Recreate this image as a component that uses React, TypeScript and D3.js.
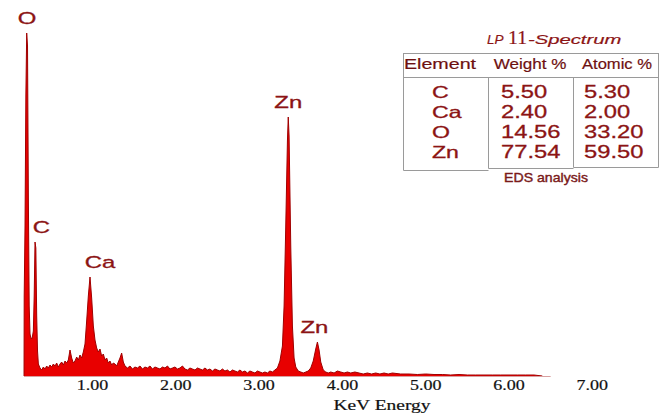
import React from "react";
import * as d3 from "d3";

const energies = [
  0.178, 0.18, 0.19, 0.2, 0.21, 0.22, 0.23, 0.24, 0.25, 0.26, 0.27, 0.28, 0.29, 0.3, 0.31, 0.32, 0.33, 0.34, 0.35, 0.37, 0.39,
  0.41, 0.43, 0.45, 0.47, 0.49, 0.51, 0.53, 0.55, 0.57, 0.59, 0.61, 0.63, 0.65, 0.67, 0.69, 0.71, 0.73, 0.75, 0.77, 0.79,
  0.81, 0.83, 0.85, 0.87, 0.89, 0.91, 0.93, 0.95, 0.97, 0.99, 1.01, 1.03, 1.05, 1.07, 1.09, 1.11, 1.13, 1.15, 1.17, 1.19,
  1.21, 1.23, 1.25, 1.27, 1.29, 1.31, 1.33, 1.35, 1.37, 1.39, 1.42, 1.45, 1.48, 1.51, 1.54, 1.57, 1.6, 1.63, 1.66, 1.69,
  1.72, 1.75, 1.78, 1.81, 1.84, 1.87, 1.9, 1.93, 1.96, 1.99, 2.02, 2.05, 2.08, 2.11, 2.14, 2.17, 2.2, 2.23, 2.26, 2.29,
  2.32, 2.35, 2.38, 2.41, 2.44, 2.47, 2.5, 2.53, 2.56, 2.59, 2.62, 2.65, 2.68, 2.71, 2.74, 2.77, 2.8, 2.83, 2.86, 2.89,
  2.92, 2.95, 2.98, 3.01, 3.04, 3.07, 3.1, 3.13, 3.16, 3.19, 3.22, 3.25, 3.28, 3.3, 3.32, 3.34, 3.35, 3.36, 3.38, 3.4,
  3.42, 3.44, 3.47, 3.5, 3.53, 3.56, 3.59, 3.62, 3.65, 3.68, 3.7, 3.72, 3.74, 3.77, 3.8, 3.83, 3.86, 3.9, 3.94, 3.98,
  4.02, 4.06, 4.1, 4.15, 4.2, 4.25, 4.3, 4.35, 4.4, 4.45, 4.5, 4.55, 4.6, 4.7, 4.8, 4.9, 5.0, 5.1, 5.2, 5.3,
  5.4, 5.5, 5.6, 5.7, 5.8, 5.9, 6.0, 6.1, 6.2, 6.3, 6.4,
];

const counts = [
  0, 80, 150, 280, 343, 330, 180, 70, 42, 38, 37, 40, 45, 80, 134, 128, 60, 25, 12, 8, 6,
  9, 7, 10, 8, 11, 9, 12, 10, 13, 9, 12, 14, 11, 15, 13, 16, 26, 18, 13, 15,
  19, 16, 21, 18, 24, 32, 55, 80, 99, 78, 50, 36, 28, 24, 27, 20, 22, 16, 18, 13,
  15, 11, 13, 12, 10, 14, 18, 23, 14, 10, 8, 10, 7, 9, 8, 10, 7, 9, 8, 10,
  7, 9, 8, 7, 9, 8, 10, 7, 8, 9, 7, 8, 10, 7, 6, 8, 7, 6, 8, 7,
  6, 8, 6, 7, 5, 7, 6, 5, 7, 5, 6, 4, 6, 5, 4, 6, 4, 5, 3, 5,
  4, 3, 5, 4, 3, 4, 3, 5, 4, 6, 8, 15, 30, 70, 150, 235, 259, 240, 130, 50,
  18, 9, 5, 4, 3, 4, 5, 8, 15, 27, 34, 26, 14, 6, 4, 3, 4, 3, 5, 4,
  3, 4, 3, 4, 3, 2, 3, 2, 3, 2, 3, 2, 3, 2, 2, 1.5, 2, 1.5, 1.5, 1,
  1.5, 1, 1, 1, 1, 1, 1, 1, 1, 1, 0,
];

const tickValues = [1, 2, 3, 4, 5, 6, 7];
const axisTitle = "KeV Energy";

const peakNames = ["O", "C", "Ca", "Zn", "Zn"];
const peakEnergies = [0.215, 0.315, 0.97, 3.35, 3.7];
const peakCounts = [343, 134, 99, 259, 34];

const tableHeaders = ["Element", "Weight %", "Atomic %"];
const elements = ["C", "Ca", "O", "Zn"];
const weightPct = ["5.50", "2.40", "14.56", "77.54"];
const atomicPct = ["5.30", "2.00", "33.20", "59.50"];

const LABEL = "#8c1414";

function SText({ x, y, sx = 1, anchor = "start", size, family, weight, style, fill, sw = 0, children }: any) {
  return (
    <text
      transform={`translate(${x},${y}) scale(${sx},1)`}
      textAnchor={anchor}
      fontSize={size}
      fontFamily={family}
      fontWeight={weight}
      fontStyle={style}
      fill={fill}
      stroke={sw ? fill : "none"}
      strokeWidth={sw}
    >
      {children}
    </text>
  );
}

export default function App() {
  const W = 666;
  const H = 415;
  const x = d3.scaleLinear().domain([0, 7]).range([9.2, 9.2 + 7 * 83.3]);
  const y = d3.scaleLinear().domain([0, 350]).range([376, 26]);
  const data = energies.map((e, i) => [e, counts[i]] as [number, number]);
  const area = d3
    .area<[number, number]>()
    .x((d) => x(d[0]))
    .y0(y(0))
    .y1((d) => y(d[1]));
  const line = d3
    .line<[number, number]>()
    .x((d) => x(d[0]))
    .y((d) => y(d[1]));
  const sans = "Liberation Sans, Arial, sans-serif";
  const serif = "Liberation Serif, Times New Roman, serif";

  const rowY = [98, 118, 137.5, 157.5];

  return (
    <svg width={W} height={H} style={{ position: "absolute", left: 0, top: 0, background: "#fff" }}>
      <rect width={W} height={H} fill="#fff" />
      <path d={area(data) || ""} fill="#e80000" />
      <path d={line(data) || ""} fill="none" stroke="#a00000" strokeWidth={1} />
      <line x1={x(energies[0])} x2={x(6.5)} y1={376.5} y2={376.5} stroke="#d8a0a0" strokeWidth={1} />

      {tickValues.map((t) => (
        <SText key={t} x={x(t)} y={390} sx={1.2} anchor="middle" size={15} family={serif} fill="#111" sw={0.2}>
          {d3.format(".2f")(t)}
        </SText>
      ))}
      <SText x={382} y={410} sx={1.3} anchor="middle" size={15} family={serif} fill="#111" sw={0.2}>
        {axisTitle}
      </SText>

      {peakNames.map((n, i) => {
        const px = x(peakEnergies[i]);
        const py = y(peakCounts[i]);
        const dx = [0, 6, 10, 0, -3][i];
        return (
          <SText key={i} x={px + dx} y={py - 9} sx={1.45} anchor="middle" size={16.5} family={sans} fill={LABEL} sw={0.3}>
            {n}
          </SText>
        );
      })}

      {/* Title */}
      <SText x={487} y={44} sx={1.0} size={13.5} family={sans} style="italic" fill={LABEL} sw={0.2}>
        LP
      </SText>
      <SText x={508} y={44} sx={1.1} size={18} family={serif} fill={LABEL} sw={0.2}>
        11
      </SText>
      <SText x={528} y={44} sx={1.5} size={13.5} family={sans} style="italic" fill={LABEL} sw={0.2}>
        -Spectrum
      </SText>

      {/* Table frame */}
      <g stroke="#9a9a9a" strokeWidth={1} fill="none">
        <rect x={403.5} y={53.5} width={255} height={24} />
        <polyline points="403.5,77.5 403.5,170.5 488.5,170.5" />
        <polyline points="488.5,77.5 488.5,168.5 573.5,168.5" />
        <polyline points="573.5,77.5 573.5,167.5 658.5,167.5 658.5,77.5" />
      </g>
      {tableHeaders.map((h, i) => (
        <SText
          key={h}
          x={[440, 530, 617][i]}
          y={69}
          sx={[1.27, 1.1, 1.07][i]}
          anchor="middle"
          size={15.5}
          family={sans}
          fill="#6e1010"
          sw={0.2}
        >
          {h}
        </SText>
      ))}
      {elements.map((e, i) => (
        <SText key={"e" + i} x={432} y={rowY[i]} sx={1.4} size={16.5} family={sans} fill={LABEL} sw={0.3}>
          {e}
        </SText>
      ))}
      {weightPct.map((v, i) => (
        <SText key={"w" + i} x={501} y={rowY[i]} sx={1.25} size={19} family={sans} fill={LABEL} sw={0.3}>
          {v}
        </SText>
      ))}
      {atomicPct.map((v, i) => (
        <SText key={"a" + i} x={584} y={rowY[i]} sx={1.25} size={19} family={sans} fill={LABEL} sw={0.3}>
          {v}
        </SText>
      ))}
      <SText x={546} y={182} sx={1.13} anchor="middle" size={12.5} family={sans} fill="#7a1a1a" sw={0.4}>
        EDS analysis
      </SText>
    </svg>
  );
}
